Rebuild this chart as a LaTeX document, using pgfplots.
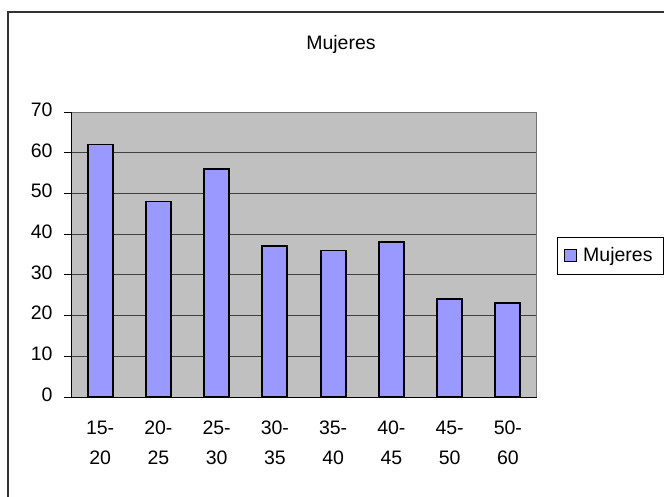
\documentclass[border=0pt]{standalone}
\usepackage{fontspec}
\setmainfont{Liberation Sans}
\usepackage{pgfplots}
\pgfplotsset{compat=1.18}
\definecolor{plotgray}{HTML}{C0C0C0}
\definecolor{barblue}{HTML}{9999FF}
\begin{document}
\fontsize{19}{30}\selectfont
\begin{tikzpicture}[x=1pt,y=1pt]
\useasboundingbox (0,0) rectangle (664,496);
\fill[white] (0,0) rectangle (664,496);
\draw[line width=1.2pt, black!80] (8,-5) -- (8,484) -- (670,484);
\node[font=\fontsize{19.5}{22}\selectfont] at (341,452) {Mujeres};
\begin{axis}[
  at={(71pt,99pt)}, anchor=south west,
  scale only axis, width=466pt, height=285pt,
  xmin=-0.5, xmax=7.5, ymin=0, ymax=70,
  axis background/.style={fill=plotgray},
  ytick={0,10,...,70},
  ymajorgrids, grid style={black!75, line width=0.8pt},
  xtick={0,...,7},
  xticklabels={{15-\\20},{20-\\25},{25-\\30},{30-\\35},{35-\\40},{40-\\45},{45-\\50},{50-\\60}},
  xticklabel style={align=center, anchor=north, yshift=-3pt, font=\fontsize{19.5}{30}\selectfont},
  typeset ticklabels with strut,
  yticklabel style={xshift=-5pt, font=\fontsize{19.5}{22}\selectfont},
  /pgf/number format/assume math mode=true,
  xtick pos=bottom, ytick pos=left,
  x tick style={draw=none},
  extra x ticks={-0.5,0.5,...,7.5}, extra x tick labels={},
  extra x tick style={tick style={draw=black, line width=0.8pt}, major tick length=7pt, grid=none},
  y tick style={draw=black, line width=0.8pt},
  tick align=outside, major tick length=7pt,
  axis line style={draw=none},
  clip=false,
]
\draw[black!55, line width=1pt] (axis cs:-0.5,70) -- (axis cs:7.5,70) -- (axis cs:7.5,0);
\addplot[ybar, bar width=25pt, fill=barblue, draw=black, line width=1.8pt] coordinates {
(0,62) (1,48) (2,56) (3,37) (4,36) (5,38) (6,24) (7,23)};
\draw[black, line width=1pt] (axis cs:-0.5,70) -- (axis cs:-0.5,0) -- (axis cs:7.5,0);
\end{axis}
\draw[black, line width=0.8pt, fill=white] (557,222) rectangle (663,259);
\draw[black, line width=0.8pt, fill=barblue] (564,235) rectangle (576,247);
\node[anchor=west, inner sep=0pt, font=\fontsize{19.5}{22}\selectfont] at (583,240) {Mujeres};
\end{tikzpicture}
\end{document}
